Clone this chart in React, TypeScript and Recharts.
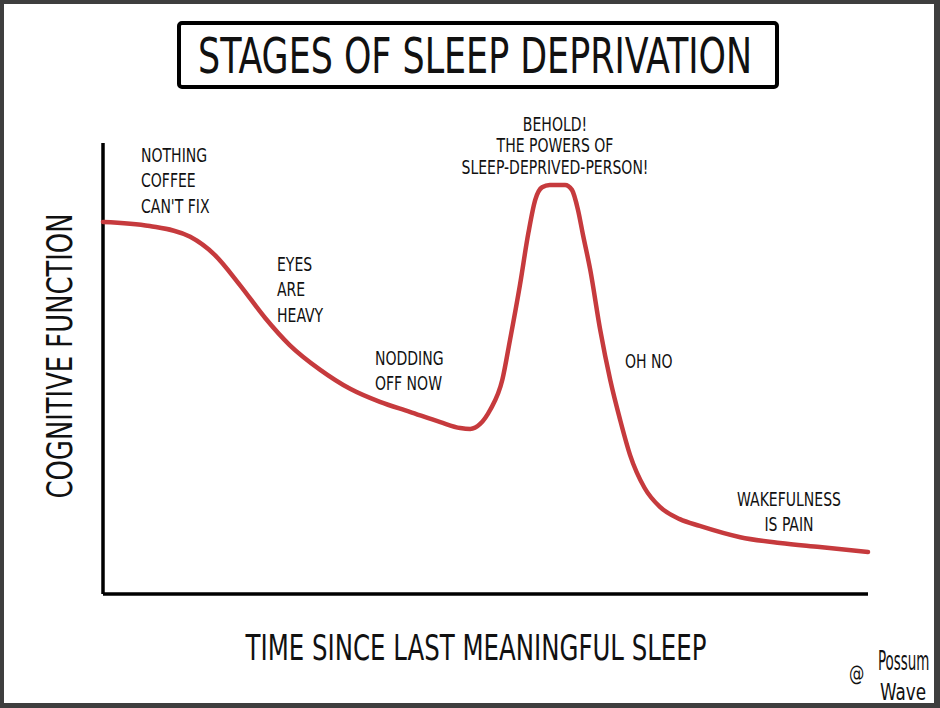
import React from "react";
import { LineChart, Line, XAxis, YAxis, ReferenceLine } from "recharts";

const title = "STAGES OF SLEEP DEPRIVATION";
const yAxisLabel = "COGNITIVE FUNCTION";
const xAxisLabel = "TIME SINCE LAST MEANINGFUL SLEEP";

const timeSinceSleep = [
  0, 6.1, 11.4, 14.6, 17.9, 21.2, 24.4, 28.4, 32.3, 36.2, 40.1, 44.1, 46.7, 48.0,
  49.3, 50.6, 52.2, 53.2, 54.5, 55.6, 56.5, 57.4, 58.4, 60.4, 61.3, 62.1, 62.7, 63.7,
  65.0, 66.3, 67.6, 68.9, 70.8, 72.8, 75.4, 78.0, 83.3, 88.5, 93.7, 100,
];
const cognitiveFunction = [
  82.5, 81.6, 79.2, 75.2, 68.5, 61.2, 55.2, 49.7, 45.5, 42.6, 40.4, 38.1, 36.8, 36.6,
  37.7, 40.8, 47.5, 56.3, 68.5, 80.0, 87.4, 90.2, 90.7, 90.7, 89.6, 85.1, 80.0, 71.8,
  58.5, 47.5, 38.6, 30.8, 23.5, 19.3, 16.6, 15.1, 12.6, 11.3, 10.4, 9.3,
];

const data = timeSinceSleep.map((t, i) => ({ t, v: cognitiveFunction[i] }));

const FONT =
  "'Liberation Sans Narrow', 'DejaVu Sans Condensed', 'Arial Narrow', 'DejaVu Sans', sans-serif";

type Note = { lines: string[]; x: number; y: number; anchor: "start" | "middle"; gap: number };
const notes: Note[] = [
  { lines: ["NOTHING", "COFFEE", "CAN'T FIX"], x: 141, y: 162, anchor: "start", gap: 25.5 },
  { lines: ["EYES", "ARE", "HEAVY"], x: 277, y: 271, anchor: "start", gap: 25.5 },
  { lines: ["NODDING", "OFF NOW"], x: 375, y: 365, anchor: "start", gap: 25.5 },
  { lines: ["BEHOLD!", "THE POWERS OF", "SLEEP-DEPRIVED-PERSON!"], x: 555, y: 131, anchor: "middle", gap: 21.5 },
  { lines: ["OH NO"], x: 625, y: 368, anchor: "start", gap: 25.5 },
  { lines: ["WAKEFULNESS", "IS PAIN"], x: 789, y: 506, anchor: "middle", gap: 25.5 },
];

function Squeezed(props: {
  x: number;
  y: number;
  width: number;
  sx: number;
  size: number;
  rotate?: number;
  children: string;
}) {
  const { x, y, width, sx, size, rotate = 0, children } = props;
  return (
    <g transform={`translate(${x} ${y}) rotate(${rotate}) scale(${sx} 1)`}>
      <text
        x={0}
        y={0}
        textAnchor="middle"
        fontFamily={FONT}
        fontSize={size}
        fill="#111"
        textLength={width / sx}
        lengthAdjust="spacingAndGlyphs"
      >
        {children}
      </text>
    </g>
  );
}

export default function App() {
  return (
    <div
      style={{
        position: "absolute",
        left: 0,
        top: 0,
        width: 940,
        height: 708,
        background: "#3e3e3e",
      }}
    >
      <div
        style={{
          position: "absolute",
          left: 4,
          top: 4,
          width: 930,
          height: 699,
          background: "#ffffff",
        }}
      />
      <div style={{ position: "absolute", left: 0, top: 0 }}>
        <LineChart
          width={940}
          height={708}
          data={data}
          margin={{ top: 143, right: 72, bottom: 114, left: 103 }}
        >
          <XAxis dataKey="t" type="number" domain={[0, 100]} hide />
          <YAxis type="number" domain={[0, 100]} hide />
          <ReferenceLine x={0} stroke="#000" strokeWidth={3.5} />
          <ReferenceLine y={0} stroke="#000" strokeWidth={3.5} />
          <Line
            type="monotone"
            dataKey="v"
            stroke="#c63a3d"
            strokeWidth={4.5}
            dot={false}
            isAnimationActive={false}
            strokeLinecap="round"
          />
        </LineChart>
      </div>
      <svg
        width={940}
        height={708}
        style={{ position: "absolute", left: 0, top: 0, pointerEvents: "none" }}
      >
        <rect
          x={179}
          y={23}
          width={598}
          height={64}
          rx={3}
          fill="#fff"
          stroke="#000"
          strokeWidth={4}
        />
        <Squeezed x={475} y={73} width={554} sx={0.71} size={50}>
          {title}
        </Squeezed>
        <Squeezed x={72} y={356} width={285} sx={0.75} size={35} rotate={-90}>
          {yAxisLabel}
        </Squeezed>
        <Squeezed x={476} y={660} width={461} sx={0.69} size={36}>
          {xAxisLabel}
        </Squeezed>
        {notes.map((n, i) => (
          <g key={i} transform={`translate(${n.x} ${n.y}) scale(0.8 1)`}>
            <text fontFamily={FONT} fontSize={19.5} fill="#111" textAnchor={n.anchor}>
              {n.lines.map((l, j) => (
                <tspan key={j} x={0} y={j * n.gap}>
                  {l}
                </tspan>
              ))}
            </text>
          </g>
        ))}
        <g transform="translate(849 681) scale(0.85 1.05)">
          <text x={0} y={0} fontFamily={FONT} fontSize={20} fill="#111">
            @
          </text>
        </g>
        <g transform="translate(878 670) scale(0.68 1.2)">
          <text x={0} y={0} fontFamily={FONT} fontSize={22} fill="#111">
            Possum
          </text>
        </g>
        <g transform="translate(880 700) scale(0.85 1.05)">
          <text x={0} y={0} fontFamily={FONT} fontSize={22} fill="#111">
            Wave
          </text>
        </g>
      </svg>
    </div>
  );
}
